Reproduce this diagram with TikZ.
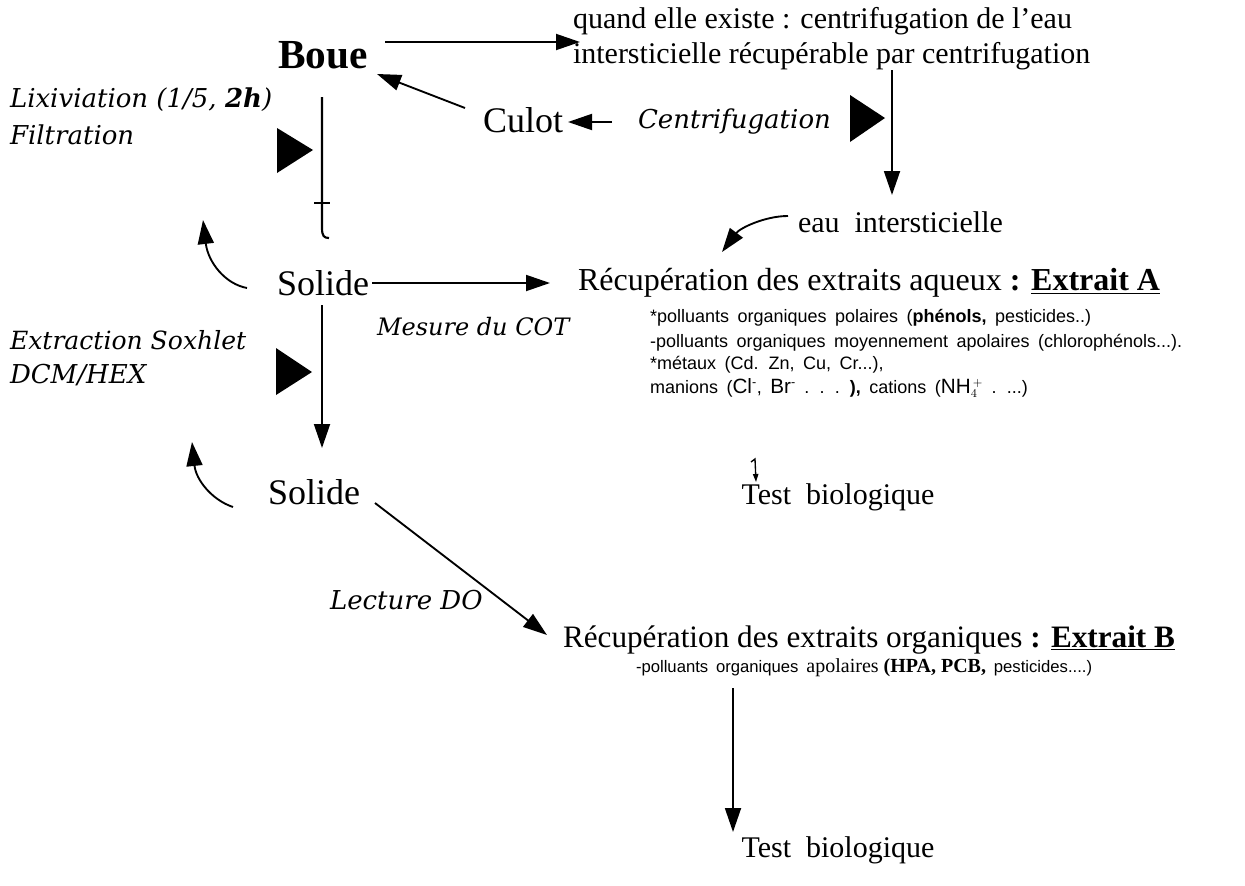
\documentclass[tikz,border=0pt]{standalone}
\usepackage{fontspec}
\usepackage{graphicx}
\usetikzlibrary{arrows.meta}
\setmainfont{Liberation Serif}
\newfontfamily\labfont{DejaVu Serif}
\newfontfamily\sansf{Liberation Sans}[WordSpace=1.7]
\newcommand{\mtxt}{\fontsize{22.5}{27}\selectfont}
\newcommand{\btxt}{\fontsize{27}{32}\selectfont}
\newcommand{\itxt}{\labfont\itshape\fontsize{19.5}{24}\selectfont}
\newcommand{\stxt}{\sansf\fontsize{13.5}{16}\selectfont}
\begin{document}
\begin{tikzpicture}[x=0.75pt,y=-0.75pt,
  lbl/.style={inner sep=0pt, outer sep=0pt, anchor=west},
  ctr/.style={inner sep=0pt, outer sep=0pt},
  arr/.style={line width=1.4pt, -{Triangle[length=18pt,width=12pt]}},
  thin arr/.style={line width=1pt, -{Triangle[length=6pt,width=4pt]}},
  marker/.style={fill=black}]
\useasboundingbox (0,0) rectangle (1245,885);

% texts
\node[lbl, font=\fontsize{31}{36}\selectfont\bfseries] (boue) at (278,55) {Boue};
\node[lbl, font=\mtxt] (q1) at (573,21) {quand elle existe : centrifugation de l’eau};
\node[lbl, font=\mtxt] (q2) at (573,56) {intersticielle\ récupérable\ par\ centrifugation};
\node[lbl, font=\btxt] (culot) at (483,120) {Culot};
\node[lbl, font=\itxt] (centri) at (638,122) {Centrifugation};
\node[lbl, font=\itxt] (lixi) at (10,100) {Lixiviation (1/5, {\bfseries 2h})};
\node[lbl, font=\itxt] (filt) at (10,135) {Filtration};
\node[lbl, font=\mtxt] (eau) at (798,222) {eau\ \ intersticielle};
\node[lbl, font=\btxt] (sol1) at (277,283) {Solide};
\node[lbl, font=\fontsize{24}{28}\selectfont] (recA) at (578,283) {Récupération des extraits aqueux {\bfseries : \underline{Extrait A}}};
\node[lbl, font=\stxt] (la1) at (650,318) {*polluants organiques polaires ({\bfseries phénols,} pesticides..)};
\node[lbl, font=\stxt] (la2) at (650,343) {-polluants organiques moyennement apolaires (chlorophénols...).};
\node[lbl, font=\stxt] (la3) at (650,365) {*métaux (Cd. Zn, Cu, Cr...),};
\node[lbl, font=\stxt] (la4) at (650,388) {manions ({\fontsize{15.5}{15}\selectfont Cl}\textsuperscript{-}, {\fontsize{15.5}{15}\selectfont Br}\textsuperscript{-} . . . {\bfseries ),} cations ({\fontsize{15.5}{15}\selectfont NH}$_4^{\,+}$ . ...)};
\node[lbl, font=\labfont\itshape\fontsize{18}{22}\selectfont] (mes) at (377,327) {Mesure du COT};
\node[lbl, font=\labfont\itshape\fontsize{18.8}{22}\selectfont] (extr) at (10,340) {Extraction Soxhlet};
\node[lbl, font=\itxt] (dcm) at (10,375) {DCM/HEX};
\node[lbl, font=\btxt] (sol2) at (268,492) {Solide};
\node[ctr, font=\mtxt] (test1) at (838,497) {Test\ \ biologique};
\node[lbl, font=\itxt] (lect) at (330,600) {Lecture DO};
\node[lbl, font=\fontsize{23.4}{28}\selectfont] (recB) at (563,640) {Récupération des extraits organiques {\bfseries : \underline{Extrait B}}};
\node[lbl, font=\sansf\fontsize{12.5}{15}\selectfont] (lb1) at (636,668) {-polluants organiques {\rmfamily\fontsize{15}{15}\selectfont apolaires {\bfseries (HPA, PCB,}} pesticides....)};
\node[ctr, font=\mtxt] (test2) at (838,850) {Test\ \ biologique};

% filled markers
\fill[marker] (277,128) -- (277,173) -- (313,150) -- cycle;
\fill[marker] (850,95) -- (850,142) -- (885,118) -- cycle;
\fill[marker] (276,348) -- (276,395) -- (312,372) -- cycle;

% connector end points
\coordinate (bqs) at (385,42);  \coordinate (bqe) at (580,42);
\coordinate (cbs) at (465,108); \coordinate (cbe) at (377,74);
\coordinate (ccs) at (612,122); \coordinate (cce) at (568,122);
\coordinate (rvs) at (892,70);  \coordinate (rve) at (892,195);
\coordinate (eas) at (788,216); \coordinate (eae) at (722,252);
\coordinate (t1) at (322,97);   \coordinate (t2) at (322,228);
\coordinate (l1s) at (247,288); \coordinate (l1e) at (203,220);
\coordinate (s1s) at (372,283); \coordinate (s1e) at (550,283);
\coordinate (v2s) at (322,305); \coordinate (v2e) at (322,448);
\coordinate (l2s) at (233,507); \coordinate (l2e) at (192,442);
\coordinate (o1s) at (751,462); \coordinate (o1e) at (756,482);
\coordinate (s2s) at (375,503); \coordinate (s2e) at (547,635);
\coordinate (bs) at (733,688);  \coordinate (be) at (733,832);

% connectors
\draw[arr] (bqs) -- (bqe);
\draw[arr] (cbs) -- (cbe);
\draw[arr] (ccs) -- (cce);
\draw[arr] (rvs) -- (rve);
\draw[arr] (eas) .. controls (765,216) and (740,228) .. (eae);
\draw[line width=1.6pt] (t1) -- (t2) .. controls (322,236) and (324,238) .. (329,238);
\draw[line width=1.6pt] (314,203) -- (330,203);
\draw[arr] (l1s) .. controls (225,284) and (208,262) .. (l1e);
\draw[arr] (s1s) -- (s1e);
\draw[arr] (v2s) -- (v2e);
\draw[arr] (l2s) .. controls (212,500) and (196,480) .. (l2e);
\draw[thin arr] (o1s) -- (755,459) -- (o1e);
\draw[arr] (s2s) -- (s2e);
\draw[arr] (bs) -- (be);
\end{tikzpicture}
\end{document}
